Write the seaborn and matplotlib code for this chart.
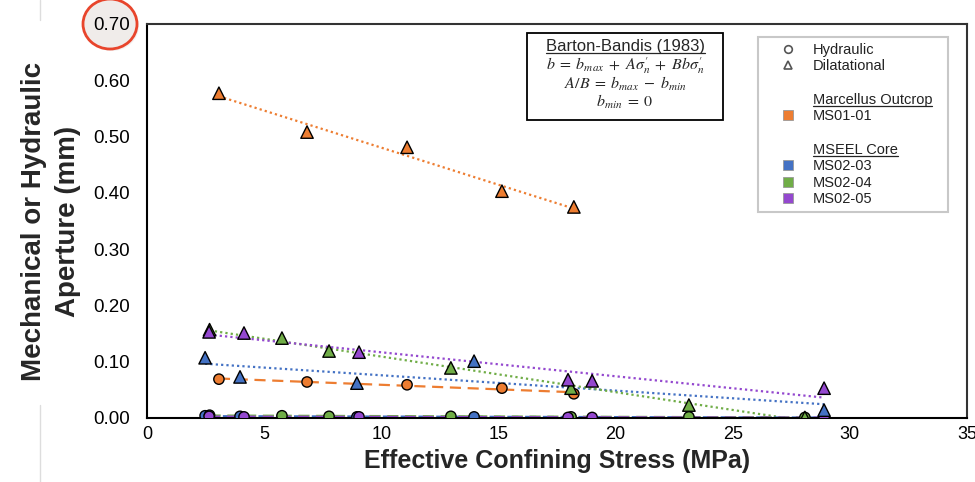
import numpy as np
import pandas as pd
import matplotlib
matplotlib.use("Agg")
import matplotlib.pyplot as plt
import seaborn as sns
from matplotlib import font_manager
from matplotlib.lines import Line2D
from matplotlib.patches import Rectangle, Ellipse
from matplotlib.transforms import IdentityTransform

# ---------------- data ----------------
ms0101_dil_x = [3.07, 6.83, 11.10, 15.15, 18.22]
ms0101_dil_y = [0.577, 0.508, 0.481, 0.403, 0.375]
ms0101_hyd_x = [3.07, 6.83, 11.10, 15.15, 18.22]
ms0101_hyd_y = [0.069, 0.064, 0.059, 0.053, 0.043]

ms0203_dil_x = [2.48, 3.97, 8.96, 13.96, 28.90]
ms0203_dil_y = [0.107, 0.073, 0.062, 0.101, 0.014]
ms0203_hyd_x = [2.48, 3.97, 8.96, 13.96, 28.90]
ms0203_hyd_y = [0.004, 0.003, 0.002, 0.002, 0.001]

ms0204_dil_x = [2.67, 5.76, 7.77, 12.97, 18.10, 23.13, 28.08]
ms0204_dil_y = [0.157, 0.142, 0.119, 0.089, 0.053, 0.023, 0.001]
ms0204_hyd_x = [2.67, 5.76, 7.77, 12.97, 18.10, 23.13, 28.08]
ms0204_hyd_y = [0.005, 0.004, 0.003, 0.003, 0.002, 0.002, 0.001]

ms0205_dil_x = [2.65, 4.14, 9.05, 17.97, 19.00, 28.90]
ms0205_dil_y = [0.153, 0.151, 0.117, 0.068, 0.066, 0.053]
ms0205_hyd_x = [2.65, 4.14, 9.05, 17.97, 19.00, 28.90]
ms0205_hyd_y = [0.003, 0.002, 0.002, 0.001, 0.001, 0.001]

samples = ["MS01-01", "MS02-03", "MS02-04", "MS02-05"]
colors = {"MS01-01": "#ED7D31", "MS02-03": "#4472C4",
          "MS02-04": "#70AD47", "MS02-05": "#9448CF"}

x_ticks = [0, 5, 10, 15, 20, 25, 30, 35]
y_ticks = [0.0, 0.1, 0.2, 0.3, 0.4, 0.5, 0.6, 0.7]

rows = []
for s, dx, dy, hx, hy in [
    ("MS01-01", ms0101_dil_x, ms0101_dil_y, ms0101_hyd_x, ms0101_hyd_y),
    ("MS02-03", ms0203_dil_x, ms0203_dil_y, ms0203_hyd_x, ms0203_hyd_y),
    ("MS02-04", ms0204_dil_x, ms0204_dil_y, ms0204_hyd_x, ms0204_hyd_y),
    ("MS02-05", ms0205_dil_x, ms0205_dil_y, ms0205_hyd_x, ms0205_hyd_y),
]:
    for x, y in zip(dx, dy):
        rows.append((s, "Dilatational", x, y))
    for x, y in zip(hx, hy):
        rows.append((s, "Hydraulic", x, y))
df = pd.DataFrame(rows, columns=["sample", "type", "stress", "aperture"])

# ---------------- style ----------------
sns.set_theme(style="white")
avail = {f.name for f in font_manager.fontManager.ttflist}
base_font = "Liberation Sans" if "Liberation Sans" in avail else "DejaVu Sans"
narrow_font = "Liberation Sans Narrow" if "Liberation Sans Narrow" in avail else base_font
plt.rcParams["font.family"] = [base_font, "DejaVu Sans"]
plt.rcParams["mathtext.fontset"] = "stix"

fig = plt.figure(figsize=(9.75, 4.82), dpi=100)
ax = fig.add_axes([147 / 975, 1 - 418 / 482, 820 / 975, 394 / 482])

# trend lines
for s in samples:
    d = df[(df["sample"] == s) & (df["type"] == "Dilatational")]
    sns.regplot(data=d, x="stress", y="aperture", ax=ax, scatter=False, ci=None,
                truncate=True, color=colors[s],
                line_kws=dict(ls=(0, (1, 1.4)), lw=1.6, zorder=2))
for s in samples:
    h = df[(df["sample"] == s) & (df["type"] == "Hydraulic")]
    sns.regplot(data=h, x="stress", y="aperture", ax=ax, scatter=False, ci=None,
                truncate=True, color=colors[s],
                line_kws=dict(ls=(0, (5, 3)), lw=1.6, zorder=2))

# markers
hyd = df[df["type"] == "Hydraulic"]
dil = df[df["type"] == "Dilatational"]
sns.scatterplot(data=hyd, x="stress", y="aperture", hue="sample", palette=colors,
                hue_order=samples, marker="o", s=55, edgecolor="black",
                linewidth=1.0, legend=False, ax=ax, zorder=3)
sns.scatterplot(data=dil, x="stress", y="aperture", hue="sample", palette=colors,
                hue_order=samples, marker="^", s=80, edgecolor="black",
                linewidth=1.0, legend=False, ax=ax, zorder=4)

ax.set_xlim(0, 35)
ax.set_ylim(0, 0.70)
ax.set_xticks(x_ticks)
ax.set_yticks(y_ticks)
ax.set_xticklabels([str(t) for t in x_ticks], fontsize=13, family=narrow_font)
ax.set_yticklabels([f"{t:.2f}" for t in y_ticks], fontsize=13.5)
ax.get_yticklabels()[-1].set_color("#444444")
ax.tick_params(direction="in", length=5, width=1.0, colors="black")
ax.tick_params(axis="x", pad=6)
ax.tick_params(axis="y", pad=12)
for side in ["left", "bottom"]:
    ax.spines[side].set_color("black")
    ax.spines[side].set_linewidth(1.5)
for side in ["top", "right"]:
    ax.spines[side].set_color("#333333")
    ax.spines[side].set_linewidth(1.5)

ax.set_xlabel("Effective Confining Stress (MPa)", fontsize=18, fontweight="bold",
              family=narrow_font, labelpad=4)
ax.set_ylabel("Mechanical or Hydraulic\nAperture (mm)", fontsize=20,
              fontweight="bold", family=narrow_font, labelpad=9, linespacing=1.4)

# Barton-Bandis box
bx0, bx1 = (527 - 147) / 820, (723 - 147) / 820
by0, by1 = (418 - 120) / 394, (418 - 33) / 394
ax.add_patch(Rectangle((bx0, by0), bx1 - bx0, by1 - by0, transform=ax.transAxes,
                       fill=True, facecolor="white", edgecolor="black", lw=1.3, zorder=5))
bcx = (bx0 + bx1) / 2
title_txt = ax.text(bcx, (418 - 46) / 394, "Barton-Bandis (1983)", transform=ax.transAxes,
                    ha="center", va="center", fontsize=12, zorder=6)
eqs = [r"$b\;=\;b_{max}\;+\;A\sigma_n'\;+\;Bb\sigma_n'$",
       r"$A/B\;=\;b_{max}\;-\;b_{min}$",
       r"$b_{min}\;=\;0$"]
for i, e in enumerate(eqs):
    ax.text(bcx, (418 - (66 + 18 * i)) / 394, e, transform=ax.transAxes,
            ha="center", va="center", fontsize=11.5, zorder=6)

# legend
def mk(marker, color, mfc=None, ms=6):
    return Line2D([], [], ls="none", marker=marker, markersize=ms,
                  markerfacecolor=mfc if mfc else color, markeredgecolor=color,
                  markeredgewidth=1.2)
blank = Line2D([], [], ls="none")
handles = [mk("o", "#555555", "none", 5.5), mk("^", "#555555", "none", 6), blank, blank,
           mk("s", "#999999", colors["MS01-01"], 7.5), blank, blank,
           mk("s", "#999999", colors["MS02-03"], 7.5), mk("s", "#999999", colors["MS02-04"], 7.5),
           mk("s", "#999999", colors["MS02-05"], 7.5)]
for h in handles[4:]:
    h.set_markeredgewidth(0.6)
labels = ["Hydraulic", "Dilatational", "", "Marcellus Outcrop", "MS01-01", "",
          "MSEEL Core", "MS02-03", "MS02-04", "MS02-05"]
lx0 = (758 - 147) / 820
lx1 = (948 - 147) / 820
ly0 = (418 - 206) / 394
ly1 = (418 - 37) / 394
leg = ax.legend(handles, labels, loc="upper left",
                bbox_to_anchor=(lx0, ly0, lx1 - lx0, ly1 - ly0), mode="expand",
                borderaxespad=0, frameon=True, fancybox=False, fontsize=10.5,
                handlelength=3.3, handletextpad=0.05, labelspacing=0.18,
                borderpad=0.4)
leg.get_frame().set_edgecolor("#BBBBBB")
leg.get_frame().set_linewidth(1.5)
for t in leg.get_texts():
    t.set_color("#222222")

# highlight circle on the 0.70 tick label (figure overlay)
fig.add_artist(Ellipse((110 / 975 + 0.002, 1 - 26 / 482), 54 / 975, 50 / 482,
                       transform=fig.transFigure, facecolor="#ECE8E6",
                       edgecolor="#999999", lw=0, alpha=0.6, zorder=-2))
fig.add_artist(Ellipse((110 / 975, 1 - 24 / 482), 54 / 975, 50 / 482,
                       transform=fig.transFigure, facecolor="#F0ECEA",
                       edgecolor="#E8452C", lw=2.0, zorder=-1))
# faint slide border lines
fig.add_artist(Line2D([40 / 975, 40 / 975], [1, 1 - 20 / 482], transform=fig.transFigure,
                      color="#DDDDDD", lw=1))
fig.add_artist(Line2D([40 / 975, 40 / 975], [1 - 405 / 482, 0], transform=fig.transFigure,
                      color="#DDDDDD", lw=1))

# underlines for headers
fig.canvas.draw()
r = fig.canvas.get_renderer()
to_under = [title_txt] + [t for t in leg.get_texts()
                          if t.get_text() in ("Marcellus Outcrop", "MSEEL Core")]
for t in to_under:
    bb = t.get_window_extent(r)
    y = bb.y0 + 1
    fig.add_artist(Line2D([bb.x0, bb.x1], [y, y], transform=IdentityTransform(),
                          color=t.get_color(), lw=0.9, zorder=10))

fig.savefig("out.png", dpi=100)
